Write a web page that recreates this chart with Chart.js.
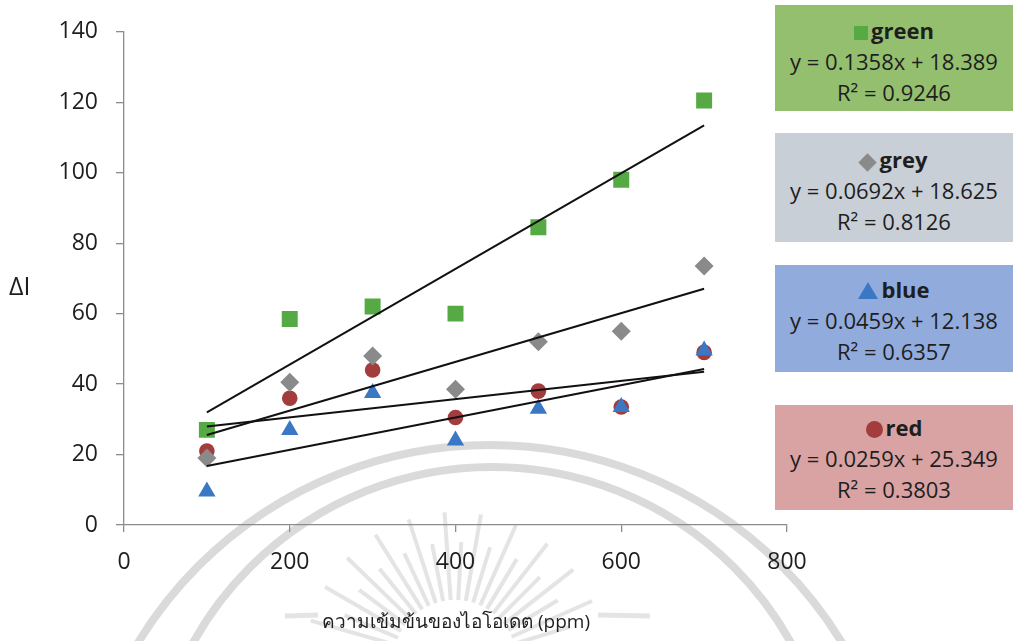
<!DOCTYPE html>
<html lang="th">
<head>
<meta charset="UTF-8">
<title>ΔI vs iodate</title>
<script src="https://cdn.jsdelivr.net/npm/chart.js"></script>
<style>
  body { margin: 0; background: #fff; font-family: "Open Sans", sans-serif; }
  #wrap { position: relative; width: 1014px; height: 641px; }
  canvas { position: absolute; left: 0; top: 0; }
  .box { position: absolute; left: 775px; width: 238px; text-align: center; color: #1e1e1e;
         font-size: 22px; line-height: 31px; box-sizing: border-box; padding-top: 10px; }
  .box b { font-weight: 700; }
  .mk { display: inline-block; margin-right: 3px; vertical-align: -1px; }
  .sq { width: 14px; height: 14px; background: #55aa44; }
  .dm { width: 13px; height: 13px; background: #8a8a8a; transform: rotate(45deg); margin-right: 6px; }
  .tr { width: 0; height: 0; border-left: 10px solid transparent; border-right: 10px solid transparent;
        border-bottom: 17px solid #3a78c4; }
  .ci { width: 17px; height: 17px; border-radius: 50%; background: #a33c3c; vertical-align: -2px; }
</style>
</head>
<body>
<div id="wrap">
  <canvas id="chart" width="1014" height="641"></canvas>
  <div class="box" style="top:5px;height:106px;background:#94bf6e">
    <span class="mk sq"></span><b>green</b><br>y = 0.1358x + 18.389<br>R² = 0.9246
  </div>
  <div class="box" style="top:133px;height:109px;background:#c9cfd7;padding-top:11px">
    <span class="mk dm"></span><b>grey</b><br>y = 0.0692x + 18.625<br>R² = 0.8126
  </div>
  <div class="box" style="top:265px;height:107px;background:#91abdd;padding-top:9px">
    <span class="mk tr"></span><b>blue</b><br>y = 0.0459x + 12.138<br>R² = 0.6357
  </div>
  <div class="box" style="top:405px;height:105px;background:#d9a3a3;padding-top:7px">
    <span class="mk ci"></span><b>red</b><br>y = 0.0259x + 25.349<br>R² = 0.3803
  </div>
</div>
<script>
// iodate concentration (ppm)
const conc = [100, 200, 300, 400, 500, 600, 700];

// ΔI per colour channel
const greenVals = [27, 58.5, 62, 60, 84.5, 98, 120.5];
const greyVals  = [19, 40.5, 48, 38.5, 52, 55, 73.5];
const blueVals  = [9.5, 27, 37.5, 24, 33, 33.5, 49.5];
const redVals   = [21, 36, 44, 30.5, 38, 33.5, 49];

// linear fits: [slope, intercept]
const greenFit = [0.1358, 18.389];
const greyFit  = [0.0692, 18.625];
const blueFit  = [0.0459, 12.138];
const redFit   = [0.0259, 25.349];

const xTicks = [0, 200, 400, 600, 800];
const yTicks = [0, 20, 40, 60, 80, 100, 120, 140];

const pts = vals => conc.map((x, i) => ({ x, y: vals[i] }));
const fitLine = ([m, b]) => [conc[0], conc[conc.length - 1]].map(x => ({ x, y: m * x + b }));

function series(vals, color, style, radius, order) {
  return { data: pts(vals), pointStyle: style, pointRadius: radius, pointHoverRadius: radius,
           backgroundColor: color, borderColor: color, borderWidth: 0, showLine: false, order };
}
function trend(fit) {
  return { data: fitLine(fit), showLine: true, borderColor: '#111', borderWidth: 2,
           pointRadius: 0, fill: false, order: 0 };
}

// faint emblem behind the plot, plus the two axis captions
const watermark = {
  id: 'watermark',
  beforeDraw(chart) {
    const c = chart.ctx;
    c.save();
    c.strokeStyle = 'rgba(205,205,205,0.75)';
    c.lineWidth = 8;
    c.beginPath(); c.arc(490, 857, 412, Math.PI, 2 * Math.PI); c.stroke();
    c.beginPath(); c.arc(492, 809, 342, Math.PI, 2 * Math.PI); c.stroke();
    c.strokeStyle = 'rgba(205,205,205,0.55)';
    c.lineWidth = 4;
    for (let a = 196; a <= 344; a += 7) {
      const r = a * Math.PI / 180;
      const len = (a % 14 === 0) ? 150 : 120;
      c.beginPath();
      c.moveTo(455 + Math.cos(r) * 62, 662 + Math.sin(r) * 62);
      c.lineTo(455 + Math.cos(r) * len, 662 + Math.sin(r) * len);
      c.stroke();
    }
    c.lineWidth = 5;
    c.beginPath(); c.moveTo(285, 616); c.lineTo(318, 615); c.stroke();
    c.beginPath(); c.moveTo(598, 615); c.lineTo(650, 616); c.stroke();
    c.restore();
  },
  afterDraw(chart) {
    const c = chart.ctx;
    c.save();
    c.fillStyle = '#1e1e1e';
    c.textBaseline = 'middle';
    c.textAlign = 'left';
    c.font = '25px "Open Sans"';
    c.fillText('ΔI', 9, 288);
    c.textAlign = 'center';
    c.font = '19px "Open Sans", "Noto Sans", sans-serif';
    c.fillText('ความเข้มข้นของไอโอเดต (ppm)', 456, 623);
    c.restore();
  }
};

const axisColor = '#8c8c8c';
const tickFont = { family: 'Open Sans', size: 23 };

new Chart(document.getElementById('chart'), {
  type: 'scatter',
  data: {
    datasets: [
      trend(greenFit), trend(greyFit), trend(blueFit), trend(redFit),
      series(greenVals, '#55aa44', 'rect', 11.3, 4),
      series(greyVals, '#8a8a8a', 'rectRot', 9.5, 1),
      series(blueVals, '#3a78c4', 'triangle', 10, 2),
      series(redVals, '#a33c3c', 'circle', 7.8, 3)
    ]
  },
  options: {
    responsive: false,
    animation: false,
    layout: { padding: { top: 30, right: 227, left: 0, bottom: 0 } },
    plugins: { legend: { display: false }, tooltip: { enabled: false } },
    scales: {
      x: {
        type: 'linear', min: 0, max: 800,
        afterBuildTicks: s => { s.ticks = xTicks.map(v => ({ value: v })); },
        afterFit: s => { s.height = 116; },
        grid: { drawOnChartArea: false, tickLength: 7, color: axisColor, lineWidth: 1.3 },
        border: { color: axisColor, width: 1.3 },
        ticks: { color: '#1e1e1e', font: tickFont, padding: 17 }
      },
      y: {
        min: 0, max: 140,
        afterBuildTicks: s => { s.ticks = yTicks.map(v => ({ value: v })); },
        afterFit: s => { s.width = 124; },
        grid: { drawOnChartArea: false, tickLength: 8, color: axisColor, lineWidth: 1.3 },
        border: { color: axisColor, width: 1.3 },
        ticks: { color: '#1e1e1e', font: tickFont, padding: 18 }
      }
    }
  },
  plugins: [watermark]
});
</script>
</body>
</html>
